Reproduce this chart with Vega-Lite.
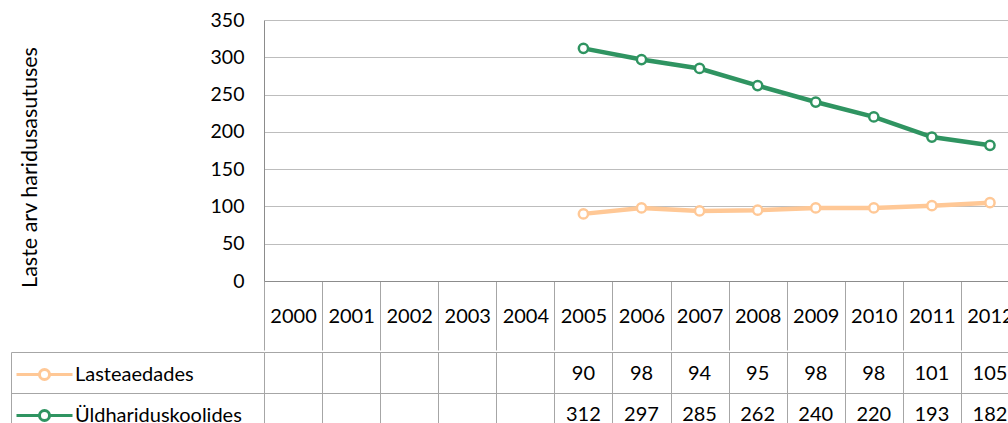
{
  "$schema": "https://vega.github.io/schema/vega-lite/v6.json",
  "padding": {"left": 10, "top": 10, "right": 0, "bottom": 0},
  "spacing": 0,
  "background": "white",
  "config": {
    "view": {"stroke": null},
    "font": "Lato",
    "axis": {"labelFont": "Lato", "labelFontSize": 19.5, "labelColor": "#000000", "titleFont": "Lato", "titleColor": "#000000"}
  },
  "datasets": {
    "rows": [
      {"year": "2005", "series": "Lasteaedades", "value": 90},
      {"year": "2006", "series": "Lasteaedades", "value": 98},
      {"year": "2007", "series": "Lasteaedades", "value": 94},
      {"year": "2008", "series": "Lasteaedades", "value": 95},
      {"year": "2009", "series": "Lasteaedades", "value": 98},
      {"year": "2010", "series": "Lasteaedades", "value": 98},
      {"year": "2011", "series": "Lasteaedades", "value": 101},
      {"year": "2012", "series": "Lasteaedades", "value": 105},
      {"year": "2005", "series": "Üldhariduskoolides", "value": 312},
      {"year": "2006", "series": "Üldhariduskoolides", "value": 297},
      {"year": "2007", "series": "Üldhariduskoolides", "value": 285},
      {"year": "2008", "series": "Üldhariduskoolides", "value": 262},
      {"year": "2009", "series": "Üldhariduskoolides", "value": 240},
      {"year": "2010", "series": "Üldhariduskoolides", "value": 220},
      {"year": "2011", "series": "Üldhariduskoolides", "value": 193},
      {"year": "2012", "series": "Üldhariduskoolides", "value": 182}
    ]
  },
  "vconcat": [
    {
      "width": 755,
      "height": 261,
      "data": {"name": "rows"},
      "encoding": {
        "x": {
          "field": "year", "type": "nominal",
          "scale": {"domain": ["2000","2001","2002","2003","2004","2005","2006","2007","2008","2009","2010","2011","2012"], "paddingInner": 0, "paddingOuter": 0},
          "axis": {"title": null, "labelAngle": 0, "tickBand": "extent", "tickSize": 69, "tickColor": "#a6a6a6", "domainColor": "#8c8c8c", "labelPadding": -34, "labelBaseline": "middle", "labelFontSize": 20, "grid": false}
        },
        "y": {
          "field": "value", "type": "quantitative",
          "scale": {"domain": [0, 350], "nice": false},
          "axis": {"title": "Laste arv haridusasutuses", "values": [0,50,100,150,200,250,300,350], "ticks": false, "labelPadding": 20, "grid": true, "gridColor": "#bdbdbd", "domainColor": "#8c8c8c", "titleFontSize": 21.5, "titleFontWeight": "normal", "titleX": -234, "titleY": 147, "titleAngle": -90, "titleAlign": "center", "titleBaseline": "middle"}
        },
        "color": {
          "field": "series", "type": "nominal",
          "scale": {"domain": ["Lasteaedades", "Üldhariduskoolides"], "range": ["#ffc896", "#2f9461"]},
          "legend": {"orient": "none", "legendX": -249, "legendY": 325, "title": null, "symbolType": "M-1,0H-0.18M0.18,0H1M-0.18,0A0.18,0.18 0 1,1 0.18,0A0.18,0.18 0 1,1 -0.18,0Z", "symbolSize": 3136, "symbolStrokeWidth": 3, "symbolFillColor": "white", "labelFont": "Lato", "labelFontSize": 20, "labelColor": "#000000", "labelOffset": 1, "labelLimit": 400, "rowPadding": -17}
        }
      },
      "layer": [
        {
          "mark": {"type": "line", "strokeWidth": 4.5}
        },
        {
          "mark": {"type": "point", "shape": "circle", "filled": false, "fill": "white", "strokeWidth": 2.5, "size": 85, "opacity": 1}
        }
      ]
    },
    {
      "width": 755,
      "height": 82,
      "data": {"name": "rows"},
      "mark": {"type": "text", "font": "Lato", "fontSize": 20, "color": "#000000", "baseline": "middle", "dy": 1},
      "encoding": {
        "x": {
          "field": "year", "type": "nominal",
          "scale": {"domain": ["2000","2001","2002","2003","2004","2005","2006","2007","2008","2009","2010","2011","2012"], "paddingInner": 0, "paddingOuter": 0},
          "axis": {"title": null, "labels": false, "ticks": false, "domain": false, "grid": true, "tickBand": "extent", "gridColor": "#a6a6a6"}
        },
        "y": {
          "field": "series", "type": "nominal",
          "scale": {"domain": ["Lasteaedades", "Üldhariduskoolides"], "paddingInner": 0, "paddingOuter": 0},
          "axis": {"title": null, "labels": false, "ticks": true, "tickSize": -253, "offset": 253, "tickBand": "extent", "tickColor": "#a6a6a6", "domain": true, "domainColor": "#a6a6a6", "grid": true, "gridColor": "#a6a6a6"}
        },
        "text": {"field": "value", "type": "quantitative"}
      }
    }
  ]
}
